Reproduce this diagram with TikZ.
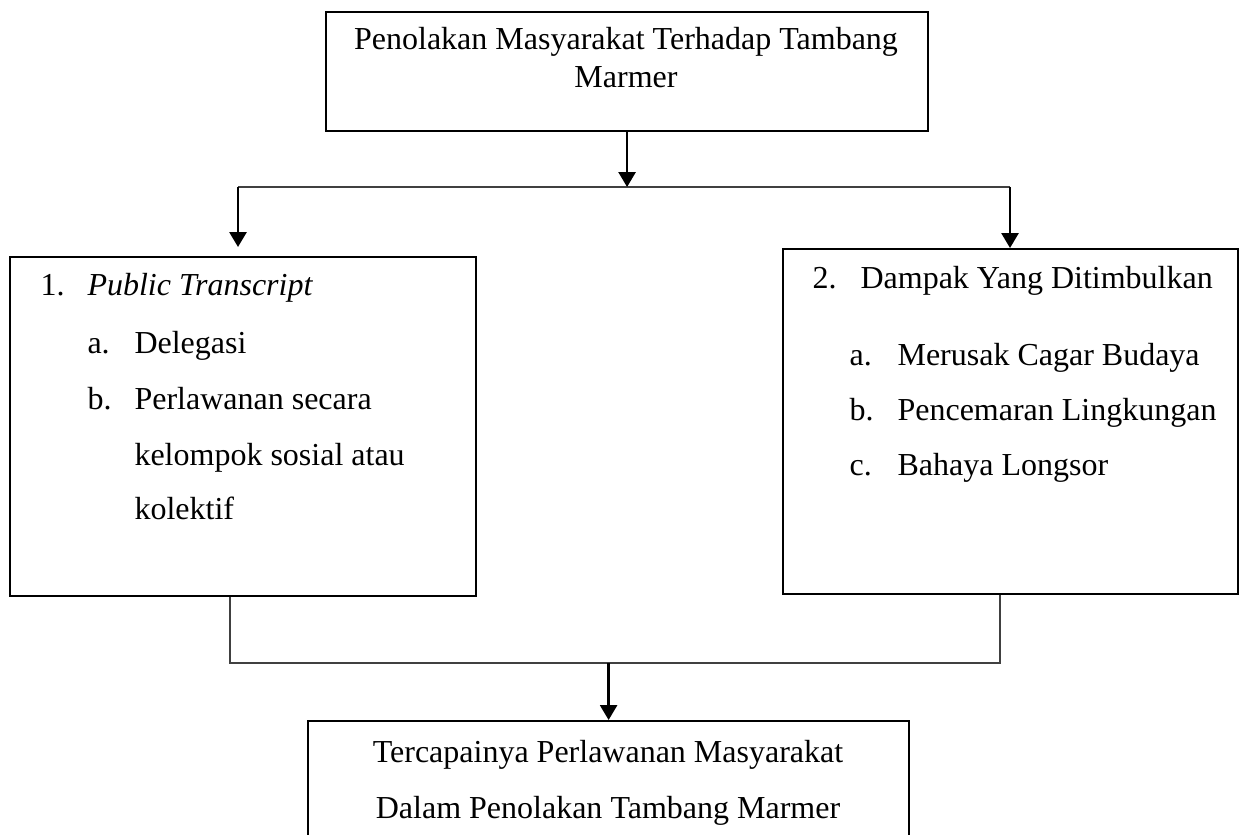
\documentclass[tikz,border=0pt]{standalone}
\usepackage{fontspec}
\setmainfont{Liberation Serif}
\usetikzlibrary{arrows.meta}
\tikzset{
  box/.style={draw, line width=0.8pt, rectangle, inner sep=0pt, anchor=north west},
  txt/.style={inner sep=0pt, anchor=base west, font=\fontsize{12pt}{14pt}\selectfont},
  ctxt/.style={txt, anchor=base},
  thinline/.style={line width=0.45pt, draw=black!75},
  arr/.style={line width=0.9pt, -{Triangle[width=6.4pt,length=5.6pt]}}
}
\begin{document}
\begin{tikzpicture}[x=0.375pt,y=-0.375pt]
\clip (0,0) rectangle (1243,834);
\fill[white] (0,0) rectangle (1243,834);

% boxes
\node[box, minimum width=225.75pt, minimum height=44.6pt] (top) at (325,11) {};
\node[box, minimum width=174.75pt, minimum height=127.1pt] (left) at (9,256) {};
\node[box, minimum width=170.6pt, minimum height=129.4pt] (right) at (782,248) {};
\node[box, minimum width=225.4pt, minimum height=67.5pt] (bottom) at (307,720) {};

% top text
\node[ctxt] (t1) at (626,50) {Penolakan Masyarakat Terhadap Tambang};
\node[ctxt] (t2) at (626,88) {Marmer};

% left text
\node[txt] (l1n) at (40,295) {1.};
\node[txt] (l1) at (87,295) {\textit{Public Transcript}};
\node[txt] (lan) at (87,353) {a.};
\node[txt] (la) at (134,353) {Delegasi};
\node[txt] (lbn) at (87,409) {b.};
\node[txt] (lb1) at (134,409) {Perlawanan secara};
\node[txt] (lb2) at (134,465) {kelompok sosial atau};
\node[txt] (lb3) at (134,519) {kolektif};

% right text
\node[txt] (r2n) at (812,288) {2.};
\node[txt] (r2) at (860,288) {Dampak Yang Ditimbulkan};
\node[txt] (ran) at (849,365) {a.};
\node[txt] (ra) at (897,365) {Merusak Cagar Budaya};
\node[txt] (rbn) at (849,420) {b.};
\node[txt] (rb) at (897,420) {Pencemaran Lingkungan};
\node[txt] (rcn) at (849,475) {c.};
\node[txt] (rc) at (897,475) {Bahaya Longsor};

% bottom text
\node[ctxt] (b1) at (608,762) {Tercapainya Perlawanan Masyarakat};
\node[ctxt] (b2) at (608,818) {Dalam Penolakan Tambang Marmer};

% connectors top
\coordinate (jl) at (238,187);
\coordinate (jr) at (1010,187);
\coordinate (lt) at (238,247);
\draw[thinline] (jl) -- (jr);
\draw[arr] (top.south) -- (top.south |- jl);
\draw[arr] (jl) -- (lt);
\draw[arr] (jr) -- (jr |- right.north);

% connectors bottom
\coordinate (bl) at (230,663);
\coordinate (br) at (1000,663);
\draw[thinline] (left.south -| bl) -- (bl) -- (br) -- (right.south -| br);
\draw[arr] (bottom.north |- bl) -- (bottom.north);
\end{tikzpicture}
\end{document}
